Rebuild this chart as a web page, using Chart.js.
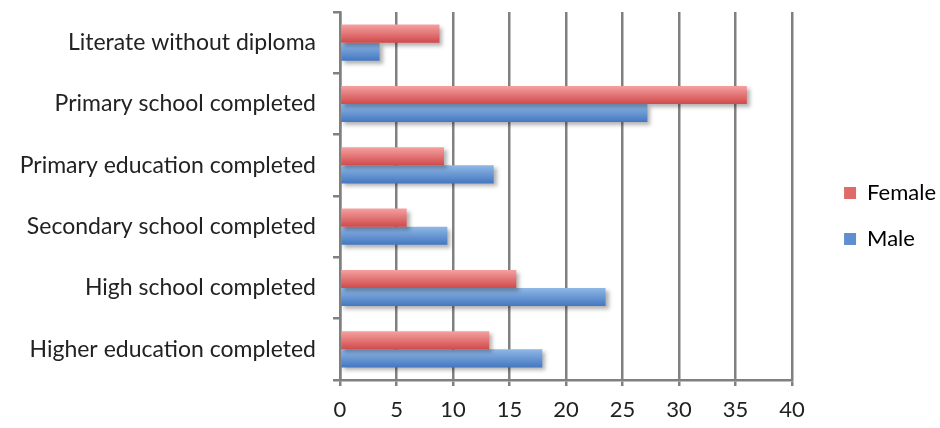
<!DOCTYPE html>
<html>
<head>
<meta charset="utf-8">
<script src="https://cdn.jsdelivr.net/npm/chart.js@4/dist/chart.umd.min.js"></script>
<style>
  html, body { margin: 0; padding: 0; background: #fff; }
  #wrap { width: 940px; height: 428px; position: relative; }
</style>
</head>
<body>
<div id="wrap"><canvas id="eduChart"></canvas></div>
<script>
// categories, top to bottom as in the picture
const categories = [
    'Literate without diploma',
    'Primary school completed',
    'Primary education completed',
    'Secondary school completed',
    'High school completed',
    'Higher education completed'
];
const seriesNames = ['Female', 'Male'];
const femaleValues = [8.8, 36, 9.2, 5.9, 15.6, 13.2];
const maleValues = [3.5, 27.2, 13.6, 9.5, 23.5, 17.9];
const xTicks = [0, 5, 10, 15, 20, 25, 30, 35, 40];

const FONT = 'Lato, "Open Sans", sans-serif';
const gridGray = '#808080';
const LEGEND_SHIFT = 28;
const LEGEND_LIFT = 4;

// gradient per bar, taken from where the scale puts the category
function barGradient(top, bottom) {
    return (ctx) => {
        const chart = ctx.chart;
        const y = chart.scales && chart.scales.y;
        if (!y || !chart.chartArea || ctx.dataIndex === undefined) return bottom;
        const c = y.getPixelForValue(ctx.dataIndex);
        const band = Math.abs(y.getPixelForValue(1) - y.getPixelForValue(0));
        const h = band * 0.59 / 2;
        const y0 = ctx.datasetIndex === 0 ? c - h : c;
        const g = chart.ctx.createLinearGradient(0, y0, 0, y0 + h);
        g.addColorStop(0, top);
        g.addColorStop(1, bottom);
        return g;
    };
}

const barShadow = {
    id: 'barShadow',
    beforeDatasetsDraw(chart) {
        const c = chart.ctx;
        c.save();
        c.shadowColor = 'rgba(0,0,0,0.3)';
        c.shadowBlur = 4;
        c.shadowOffsetX = 3;
        c.shadowOffsetY = 3;
    },
    afterDatasetsDraw(chart) {
        chart.ctx.restore();
    }
};

// leave a wider gap between plot and legend
const legendGap = {
    id: 'legendGap',
    afterLayout(chart) {
        const lg = chart.legend;
        if (!lg) return;
        lg.left += LEGEND_SHIFT;
        lg.right += LEGEND_SHIFT;
        lg.top -= LEGEND_LIFT;
        lg.bottom -= LEGEND_LIFT;
    }
};

new Chart(document.getElementById('eduChart'), {
    type: 'bar',
    data: {
        labels: categories,
        datasets: [
            {
                label: seriesNames[0],
                data: femaleValues,
                backgroundColor: barGradient('#f5a0a0', '#d04a4b'),
                borderWidth: 0
            },
            {
                label: seriesNames[1],
                data: maleValues,
                backgroundColor: barGradient('#8fb8e6', '#4477c0'),
                borderWidth: 0
            }
        ]
    },
    plugins: [barShadow, legendGap],
    options: {
        indexAxis: 'y',
        responsive: true,
        maintainAspectRatio: false,
        animation: false,
        categoryPercentage: 0.59,
        barPercentage: 1,
        layout: { padding: { top: 12, right: 22, bottom: 0, left: 0 } },
        plugins: {
            legend: {
                position: 'right',
                labels: {
                    boxWidth: 12,
                    boxHeight: 12,
                    padding: 24,
                    color: '#222',
                    font: { family: FONT, size: 22 },
                    generateLabels(chart) {
                        return seriesNames.map((name, i) => ({
                            text: name,
                            fillStyle: i === 0 ? '#e06a6a' : '#5f8fce',
                            strokeStyle: 'transparent',
                            lineWidth: 0,
                            datasetIndex: i
                        }));
                    }
                }
            },
            tooltip: { enabled: false }
        },
        scales: {
            x: {
                min: 0,
                max: 40,
                afterBuildTicks(scale) {
                    scale.ticks = xTicks.map(v => ({ value: v }));
                },
                afterFit(scale) { scale.height = 48; },
                grid: {
                    color: gridGray,
                    lineWidth: 2.5,
                    tickLength: 6,
                    tickColor: gridGray
                },
                border: { color: gridGray, width: 2.5 },
                ticks: {
                    color: '#222',
                    padding: 11,
                    font: { family: FONT, size: 22 }
                }
            },
            y: {
                afterFit(scale) {
                    scale.width = 340;
                    scale.paddingTop = 0;
                    scale.paddingBottom = 0;
                },
                grid: {
                    offset: true,
                    drawOnChartArea: false,
                    tickLength: 7,
                    color: gridGray,
                    lineWidth: 2.5
                },
                border: { color: gridGray, width: 2.5 },
                ticks: {
                    color: '#222',
                    padding: 17,
                    font: { family: FONT, size: 23 }
                }
            }
        }
    }
});
</script>
</body>
</html>
